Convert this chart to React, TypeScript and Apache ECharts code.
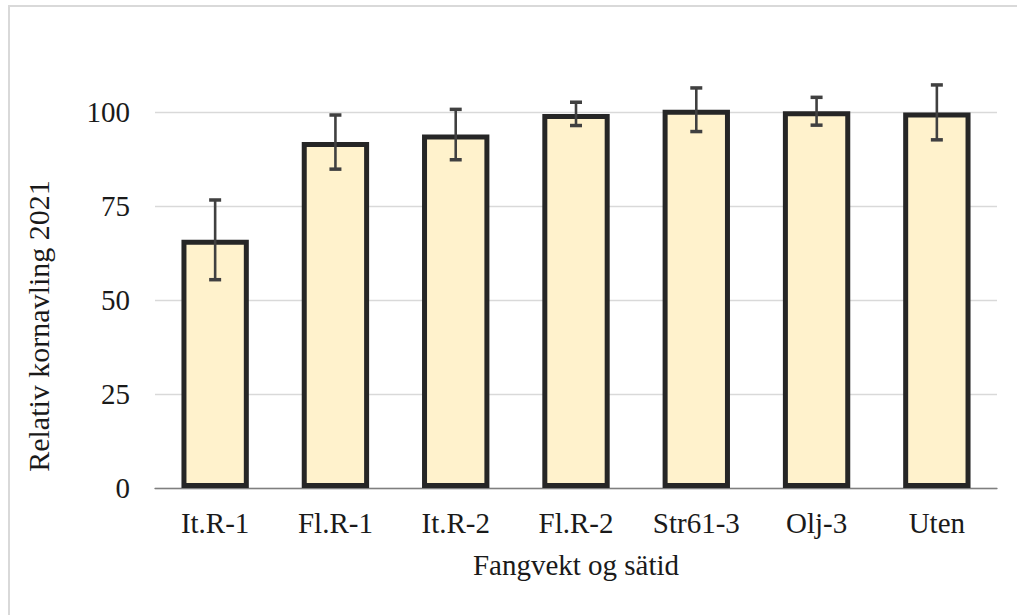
import React, { useEffect, useRef } from "react";
import * as echarts from "echarts";

const categories = ["It.R-1", "Fl.R-1", "It.R-2", "Fl.R-2", "Str61-3", "Olj-3", "Uten"];
const values = [66, 92, 94, 99.5, 100.6, 100.2, 99.9];
const errors = [10.6, 7.2, 6.7, 3.1, 5.8, 3.7, 7.3];
const yTicks = [0, 25, 50, 75, 100];

const FONT = "'Liberation Serif', 'Times New Roman', serif";

export default function App() {
  const ref = useRef<HTMLDivElement>(null);
  useEffect(() => {
    if (!ref.current) return;
    const chart = echarts.init(ref.current, undefined, { renderer: "svg" });
    const errData = values.map((v, i) => [i, v - errors[i], v + errors[i]]);
    chart.setOption({
      animation: false,
      backgroundColor: "#ffffff",
      grid: { left: 155, right: 20, top: 55.6, bottom: 127 },
      graphic: [
        {
          type: "polyline",
          shape: { points: [[9, 615], [9, 6], [1017, 6]] },
          style: { stroke: "#d9d9d9", lineWidth: 2, fill: "none" },
          silent: true,
        },
        {
          type: "text",
          x: 38,
          y: 326,
          rotation: Math.PI / 2,
          style: {
            text: "Relativ kornavling 2021",
            font: `30px ${FONT}`,
            fill: "#1a1a1a",
            align: "center",
            verticalAlign: "middle",
          },
        },
      ],
      xAxis: {
        type: "category",
        data: categories,
        name: "Fangvekt og sätid",
        nameLocation: "middle",
        nameGap: 62,
        nameTextStyle: { fontFamily: FONT, fontSize: 29, color: "#1a1a1a" },
        axisLine: { lineStyle: { color: "#7f7f7f", width: 1.3 } },
        axisTick: { show: false },
        axisLabel: { fontFamily: FONT, fontSize: 29, color: "#1a1a1a", margin: 20 },
      },
      yAxis: {
        type: "value",
        min: 0,
        max: 115,
        interval: 25,
        axisLine: { show: false },
        axisTick: { show: false },
        axisLabel: {
          fontFamily: FONT,
          fontSize: 29,
          color: "#1a1a1a",
          margin: 25,
          showMaxLabel: false,
          formatter: (v: number) => (yTicks.includes(v) ? String(v) : ""),
        },
        splitLine: { show: true, showMaxLine: false, lineStyle: { color: "#d9d9d9", width: 1.3 } },
      },
      series: [
        {
          type: "bar",
          data: values,
          barWidth: "56%",
          itemStyle: { color: "#FFF2CC", borderColor: "#262626", borderWidth: 5 },
          z: 2,
        },
        {
          type: "custom",
          data: errData,
          z: 5,
          renderItem: (params: any, api: any) => {
            const i = api.value(0);
            const lo = api.coord([i, api.value(1)]);
            const hi = api.coord([i, api.value(2)]);
            const hw = 6;
            const style = { stroke: "#404040", lineWidth: 2.6 };
            return {
              type: "group",
              children: [
                { type: "line", shape: { x1: hi[0], y1: hi[1], x2: lo[0], y2: lo[1] }, style },
                { type: "line", shape: { x1: hi[0] - hw, y1: hi[1], x2: hi[0] + hw, y2: hi[1] }, style: { ...style, lineWidth: 3.5 } },
                { type: "line", shape: { x1: lo[0] - hw, y1: lo[1], x2: lo[0] + hw, y2: lo[1] }, style: { ...style, lineWidth: 3.5 } },
              ],
            };
          },
        },
      ],
    });
    return () => chart.dispose();
  }, []);
  return (
    <div
      ref={ref}
      style={{ position: "fixed", left: 0, top: 0, width: 1017, height: 615 }}
    />
  );
}
